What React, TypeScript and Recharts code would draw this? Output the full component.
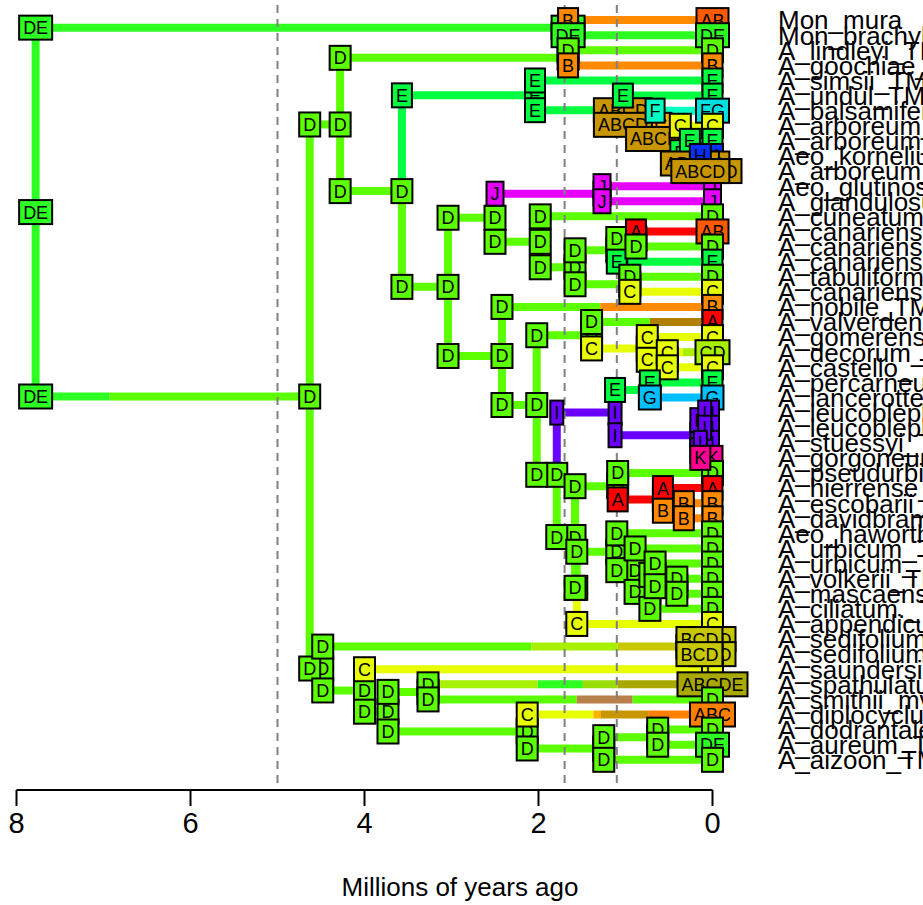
import React from "react";
import { ComposedChart, Line, Scatter, XAxis, YAxis } from "recharts";

const FONT = '"Liberation Sans", Arial, Helvetica, sans-serif';

// ---------- data ----------
const tipNames = [
  "Mon_mura", "Mon_brachylepis", "A_lindleyi_TM", "A_goochiae_TM", "A_simsii_TM",
  "A_undul_TM", "A_balsamiferum", "A_arboreum_h", "A_arboreum_a", "Aeo_korneliuslemsii",
  "A_arboreum_r", "Aeo_glutinosum", "A_glandulosum", "A_cuneatum_TM", "A_canariense_c",
  "A_canariense_l", "A_canariense_v", "A_tabuliforme", "A_canariense_x", "A_nobile_TM",
  "A_valverdense", "A_gomerense_TM", "A_decorum_TM", "A_castello_ TM", "A_percarneum",
  "A_lancerottense", "A_leucoblepharum", "A_leucoblepharum", "A_stuessyi_TM", "A_gorgoneum",
  "A_pseudurbicum", "A_hierrense_TM", "A_escobarii_TM", "A_davidbramwellii", "Aeo_haworthii",
  "A_urbicum_TM", "A_urbicum_TM", "A_volkerii_TM", "A_mascaense", "A_ciliatum._TM",
  "A_appendiculatum", "A_sedifolium_TM", "A_sedifolium_TM", "A_saundersii", "A_spathulatum",
  "A_smithii_mv", "A_diplocyclum", "A_dodrantale", "A_aureum_TM", "A_aizoon_TM",
];

const tipStates = [
  "AB", "DE", "D", "B", "E", "E", "FG", "C", "E", "H",
  "ABCD", "J", "J", "D", "AB", "D", "E", "D", "C", "B",
  "A", "C", "CD", "C", "E", "G", "I", "I", "I", "K",
  "D", "A", "B", "B", "D", "D", "D", "D", "D", "D",
  "C", "BCD", "BCD", "C", "ABCDE", "D", "ABC", "D", "DE", "D",
];

const nodeIds = [
  "root", "mon", "n1", "u", "lg", "v", "a1", "a2", "a3", "a4", "a5", "a6",
  "w", "xx", "j", "yy", "z", "zz", "c14", "z2", "p", "q", "r", "s", "dc",
  "q2", "ic", "pl", "lk", "lb", "sg", "q3", "ph", "hd", "ed", "q4", "hu",
  "uc", "uc2", "uc3", "vm", "l", "sd", "m", "m2", "ss", "aa", "bb", "cc",
];

const nodeAges = [
  7.78, 1.66, 4.63, 4.28, 1.66, 3.57, 2.04, 1.03, 0.66, 0.37, 0.26, 0.14,
  3.04, 2.5, 1.27, 1.98, 1.58, 1.1, 0.88, 0.95, 2.42, 2.02, 1.39, 0.75, 0.52,
  1.79, 1.12, 0.72, 0.18, 0.09, 0.14, 1.58, 1.09, 0.57, 0.33, 1.56, 1.1,
  0.89, 0.72, 0.66, 0.41, 4.48, 0.15, 4.0, 3.73, 3.27, 2.13, 1.25, 0.63,
];

const nodeKids = [
  "mon n1", "t0 t1", "u l", "lg v", "t2 t3", "a1 w", "t4 a2", "t5 a3", "t6 a4", "t7 a5", "t8 a6", "t9 t10",
  "xx p", "j yy", "t11 t12", "t13 z", "zz z2", "c14 t16", "t14 t15", "t17 t18", "t19 q", "r q2", "t20 s", "t21 dc", "t22 t23",
  "ic q3", "pl lk", "t24 t25", "lb sg", "t26 t27", "t28 t29", "ph q4", "t30 hd", "t31 ed", "t32 t33", "hu t40", "t34 uc",
  "t35 uc2", "uc3 t39", "t36 vm", "t37 t38", "sd m", "t41 t42", "t43 m2", "ss aa", "t44 t45", "t46 bb", "cc t49", "t47 t48",
];

const nodeStates = [
  "DE", "DE", "D", "D", "D", "D", "E", "ABCD", "BC", "C", "E", "ABCD",
  "D", "D", "J", "D", "D", "D", "D", "D", "D", "D", "D", "C", "C",
  "D", "I", "E", "I", "I", "I", "D", "D", "A", "B", "D", "D",
  "D", "D", "D", "D", "D", "BCD", "D", "D", "D", "D", "D", "D",
];

// state at the start of each branch (corner labels)
const cornerStates: [string, string][] = [
  ["mon", "DE"], ["n1", "DE"], ["t0", "B"], ["t1", "DE"], ["u", "D"], ["l", "D"],
  ["lg", "D"], ["v", "D"], ["t2", "D"], ["t3", "B"], ["a1", "E"], ["w", "D"],
  ["t4", "E"], ["a2", "E"], ["t5", "E"], ["a3", "ABCD"], ["t6", "F"], ["a4", "ABCD"],
  ["t7", "C"], ["a5", "E"], ["t8", "E"], ["a6", "ABCD"], ["t9", "H"], ["t10", "ABCD"],
  ["xx", "D"], ["p", "D"], ["j", "J"], ["yy", "D"], ["t11", "J"], ["t12", "J"],
  ["t13", "D"], ["z", "D"], ["zz", "D"], ["z2", "D"], ["c14", "D"], ["t16", "E"],
  ["t14", "A"], ["t15", "D"], ["t17", "D"], ["t18", "C"], ["t19", "D"], ["q", "D"],
  ["r", "D"], ["q2", "D"], ["t20", "D"], ["s", "C"], ["t21", "C"], ["dc", "C"],
  ["t22", "C"], ["t23", "C"], ["ic", "I"], ["q3", "D"], ["pl", "E"], ["lk", "I"],
  ["t24", "E"], ["t25", "G"], ["lb", "I"], ["sg", "I"], ["t26", "I"], ["t27", "I"],
  ["t28", "I"], ["t29", "K"], ["ph", "D"], ["q4", "D"], ["t30", "D"], ["hd", "A"],
  ["t31", "A"], ["ed", "B"], ["t32", "B"], ["t33", "B"], ["hu", "D"], ["t40", "C"],
  ["t34", "D"], ["uc", "D"], ["t35", "D"], ["uc2", "D"], ["uc3", "D"], ["t39", "D"],
  ["t36", "D"], ["vm", "D"], ["t37", "D"], ["t38", "D"], ["sd", "D"], ["m", "D"],
  ["t41", "BCD"], ["t42", "BCD"], ["t43", "C"], ["m2", "D"], ["ss", "D"], ["aa", "D"],
  ["t44", "D"], ["t45", "D"], ["t46", "C"], ["bb", "D"], ["cc", "D"], ["t49", "D"],
  ["t47", "D"], ["t48", "D"],
];

// state changes along branches: [branch, age, new state]
const branchShifts: [string, number, string][] = [
  ["n1", 6.93, "D"],
  ["t19", 1.29, "B"],
  ["t20", 0.72, "AD"],
  ["t22", 0.34, "CD"],
  ["sd", 2.08, "CD"], ["sd", 1.09, "BCD"],
  ["t44", 3.13, "CD"], ["t44", 2.01, "DE"], ["t44", 1.49, "CDE"], ["t44", 1.09, "ABCDE"],
  ["t45", 1.56, "BD"], ["t45", 0.92, "D"],
  ["t46", 1.37, "BC"], ["t46", 1.29, "ABCD"], ["t46", 0.74, "ABC"],
];

const stateNames = ["A", "B", "C", "D", "E", "F", "G", "H", "I", "J", "K", "AB", "DE", "CD", "BC", "BD", "AD", "CDE", "BCD", "ABC", "ABCD", "ABCDE", "FG"];
const stateColors = ["#FF0000", "#FF8A00", "#E8FF00", "#5CFF00", "#00FF40", "#00FFC0", "#00BFFF", "#0030FF", "#6A00FF", "#E600FF", "#FF0090", "#FF5A00", "#2EFF22", "#A6F000", "#FFB000", "#B8804A", "#B08000", "#98DC00", "#C8C800", "#FF8000", "#C89600", "#A8A800", "#00E0E0"];

const epochAges = [5.0, 1.7, 1.1];
const ageTicks = [0, 2, 4, 6, 8];

// ---------- tree helpers ----------
const isTip = (id: string) => /^t\d+$/.test(id);
const kidsOf = (id: string) => nodeKids[nodeIds.indexOf(id)].split(" ");
const ageOf = (id: string) => (isTip(id) ? 0 : nodeAges[nodeIds.indexOf(id)]);
const yCache: Record<string, number> = {};
function yOf(id: string): number {
  if (isTip(id)) return Number(id.slice(1));
  if (yCache[id] === undefined) {
    const ys = kidsOf(id).map(yOf);
    yCache[id] = ys.reduce((a, b) => a + b, 0) / ys.length;
  }
  return yCache[id];
}
const colorOf = (s: string) => {
  const i = stateNames.indexOf(s);
  return i >= 0 ? stateColors[i] : "#999999";
};
const cornerOf = (id: string) => {
  const c = cornerStates.find((cs) => cs[0] === id);
  return c ? c[1] : "D";
};

type P = { x: number; y: number | null };
const hMap = new Map<string, P[]>();
const vMap = new Map<string, P[]>();
function pushSeg(m: Map<string, P[]>, c: string, a: P, b: P) {
  if (!m.has(c)) m.set(c, []);
  const arr = m.get(c)!;
  if (arr.length) arr.push({ x: a.x, y: null });
  arr.push(a, b);
}

nodeIds.forEach((id) => {
  const a = ageOf(id);
  const y0 = yOf(id);
  kidsOf(id).forEach((k) => {
    const yk = yOf(k);
    const st = cornerOf(k);
    pushSeg(vMap, colorOf(st), { x: a, y: y0 }, { x: a, y: yk });
    const shifts = branchShifts.filter((s) => s[0] === k).sort((p, q) => q[1] - p[1]);
    let start = a;
    let cur = st;
    shifts.forEach(([, age, s]) => {
      pushSeg(hMap, colorOf(cur), { x: start, y: yk }, { x: age, y: yk });
      start = age;
      cur = s;
    });
    pushSeg(hMap, colorOf(cur), { x: start, y: yk }, { x: ageOf(k), y: yk });
  });
});
const hGroups = Array.from(hMap.entries());
const vGroups = Array.from(vMap.entries());

const epochData: P[] = [];
epochAges.forEach((a, i) => {
  if (i) epochData.push({ x: a, y: null });
  epochData.push({ x: a, y: -1 }, { x: a, y: 51 });
});

const tipPts = tipStates.map((s, i) => ({ x: 0, y: i, s }));
const nodePts = nodeIds.map((id, i) => ({ x: nodeAges[i], y: yOf(id), s: nodeStates[i] }));
const cornerPts = nodeIds.flatMap((id) => kidsOf(id).map((k) => ({ x: ageOf(id), y: yOf(k), s: cornerOf(k) })));
const tipIdx = tipNames.map((_, i) => i);

const CW: Record<string, number> = { A: 0.667, B: 0.667, C: 0.722, D: 0.722, E: 0.667, F: 0.611, G: 0.778, H: 0.722, I: 0.278, J: 0.5, K: 0.667 };

function Box(props: any) {
  const { cx, cy, payload } = props;
  if (cx == null || cy == null) return null;
  const s: string = payload.s;
  const fs = 18;
  const w = s.split("").reduce((t, ch) => t + (CW[ch] ?? 0.7), 0) * fs + 8;
  const h = 24;
  return (
    <g>
      <rect x={cx - w / 2} y={cy - h / 2} width={w} height={h} fill={colorOf(s)} stroke="#000" strokeWidth={2} />
      <text x={cx} y={cy} dy="0.36em" textAnchor="middle" fontSize={fs} fontFamily={FONT} fill="#000">{s}</text>
    </g>
  );
}

const NameTick = (p: any) => (
  <text x={778} y={p.y} dy="0.36em" fontSize={26} fontFamily={FONT} fill="#000">{tipNames[p.payload.value]}</text>
);

const AgeTick = (p: any) => (
  <text x={p.x} y={833} textAnchor="middle" fontSize={29} fontFamily={FONT} fill="#000">{p.payload.value}</text>
);

export default function App() {
  return (
    <div style={{ position: "absolute", left: 0, top: 0, width: 923, height: 905, background: "#fff" }}>
      <ComposedChart width={923} height={905} margin={{ top: 5, right: 0, bottom: 0, left: 16.5 }}>
        <XAxis
          dataKey="x"
          type="number"
          domain={[0, 8]}
          reversed
          ticks={ageTicks}
          height={115}
          tickSize={16}
          axisLine={{ stroke: "#000", strokeWidth: 2 }}
          tickLine={{ stroke: "#000", strokeWidth: 2 }}
          tick={AgeTick}
        />
        <YAxis
          dataKey="y"
          type="number"
          orientation="right"
          domain={[-1, 51]}
          reversed
          ticks={tipIdx}
          interval={0}
          width={210.5}
          axisLine={false}
          tickLine={false}
          tick={NameTick}
        />
        {hGroups.map(([c, pts], i) => (
          <Line key={"h" + i} data={pts} dataKey="y" stroke={c} strokeWidth={8} dot={false} activeDot={false}
            isAnimationActive={false} connectNulls={false} strokeLinecap="butt" legendType="none" />
        ))}
        {vGroups.map(([c, pts], i) => (
          <Line key={"v" + i} data={pts} dataKey="y" stroke={c} strokeWidth={8} dot={false} activeDot={false}
            isAnimationActive={false} connectNulls={false} strokeLinecap="square" legendType="none" />
        ))}
        <Line data={epochData} dataKey="y" stroke="#808080" strokeWidth={2} strokeDasharray="8 6" dot={false}
          activeDot={false} isAnimationActive={false} connectNulls={false} legendType="none" />
        <Scatter data={tipPts} shape={Box} isAnimationActive={false} legendType="none" />
        <Scatter data={nodePts} shape={Box} isAnimationActive={false} legendType="none" />
        <Scatter data={cornerPts} shape={Box} isAnimationActive={false} legendType="none" />
      </ComposedChart>
      <div style={{ position: "absolute", left: 0, width: 920, top: 872, fontFamily: FONT, fontSize: 26, lineHeight: "30px", color: "#000" }}>
        <span style={{ position: "absolute", left: 460, transform: "translateX(-50%)", whiteSpace: "nowrap" }}>Millions of years ago</span>
      </div>
    </div>
  );
}
